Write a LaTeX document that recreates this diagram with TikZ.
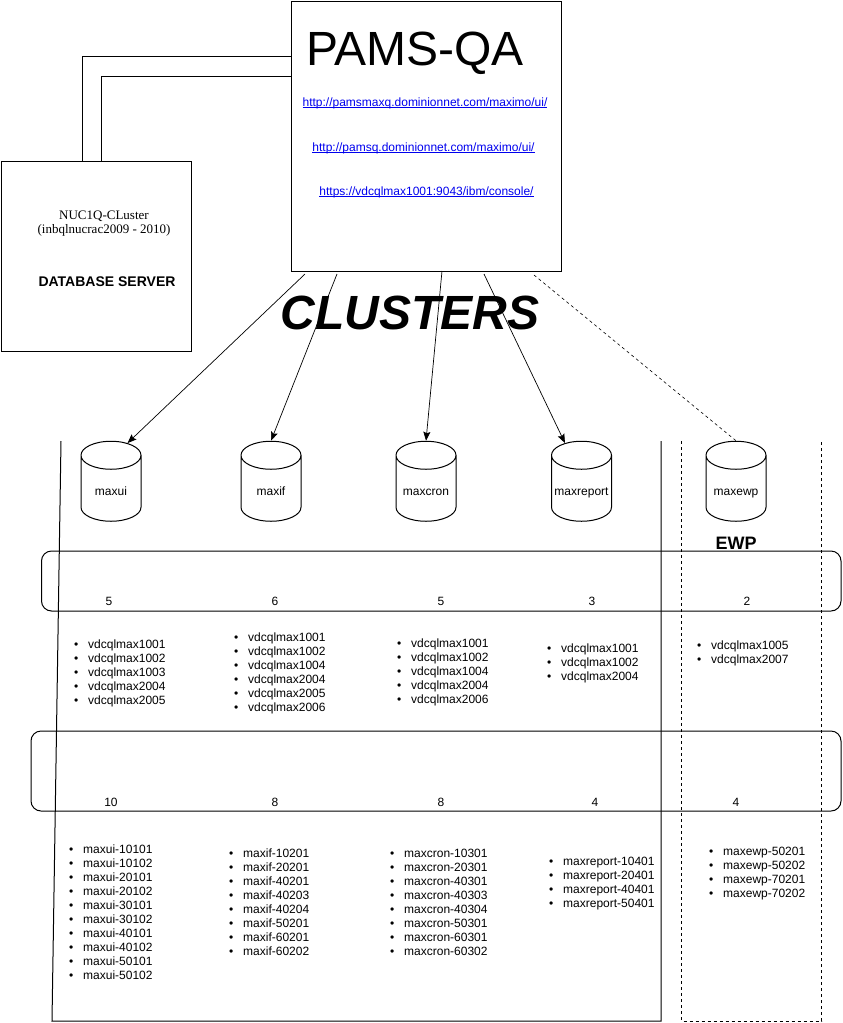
\documentclass[tikz,border=0pt]{standalone}
\usepackage{fontspec}
\setmainfont{Liberation Sans}
\newfontfamily\serifpart{Liberation Serif}
\usetikzlibrary{arrows.meta,shapes.geometric}

\definecolor{linkblue}{RGB}{0,0,238}
\newcommand{\hostitem}[1]{\makebox[14pt][l]{\textbullet}#1\strut}
\newcommand{\weblink}[1]{\textcolor{linkblue}{\underline{\smash{#1}}}}

\tikzset{
    boxline/.style={line width=1pt},
    clusterdb/.style={draw,line width=1pt,cylinder,shape border rotate=90,aspect=0.5,
        minimum height=80pt,minimum width=60pt,inner sep=0pt,
        text width=56pt,align=center,text height=15.6pt,text depth=2.6pt,
        font=\fontsize{12}{14}\selectfont},
    small/.style={inner sep=0pt,font=\fontsize{12}{14}\selectfont},
    hostlist/.style={small,anchor=north west,align=left},
    toarrow/.style={line width=0.7pt,-{Stealth[length=9pt,width=7pt,inset=1.5pt]}},
    rowband/.style={draw,line width=1pt,rounded corners=10pt}
}

\begin{document}
\begin{tikzpicture}[x=1pt,y=-1pt]
    \useasboundingbox (0,0) rectangle (843,1023);

    \coordinate (P1) at (305,274);
    \coordinate (P2) at (337,274);
    \coordinate (P3) at (442,271);
    \coordinate (P4) at (484,274);
    \coordinate (P5) at (534,275);
    \coordinate (D1) at (82,161);
    \coordinate (D2) at (101.5,161);
    \coordinate (Q1) at (291.5,56);
    \coordinate (Q2) at (291.5,76);

    % top boxes
    \draw[boxline] (291.5,1.5) rectangle (561.5,271);
    \draw[boxline] (1.5,161) rectangle (191.5,351);
    \draw[boxline] (D1) |- (Q1);
    \draw[boxline] (D2) |- (Q2);

    \node[inner sep=0pt,font=\fontsize{48}{48}\selectfont] (pamstitle) at (415,53) {PAMS-QA};
    \node[small] (linkmaxq) at (425,107) {\weblink{http://pamsmaxq.dominionnet.com/maximo/ui/}};
    \node[small] (linkpamsq) at (423.5,152) {\weblink{http://pamsq.dominionnet.com/maximo/ui/}};
    \node[small] (linkconsole) at (426.5,196) {\weblink{https://vdcqlmax1001:9043/ibm/console/}};

    \node[small,align=center,font=\fontsize{13}{14}\selectfont\serifpart] (dbname) at (104,224)
        {NUC1Q-CLuster\\(inbqlnucrac2009 - 2010)};
    \node[small,font=\fontsize{14}{16}\selectfont\bfseries] (dblabel) at (107,282) {DATABASE SERVER};

    % clusters
    \node[clusterdb] (maxui) at (111,488.5) {maxui};
    \node[clusterdb] (maxif) at (271,488.5) {maxif};
    \node[clusterdb] (maxcron) at (426,488.5) {maxcron};
    \node[clusterdb] (maxreport) at (581.5,488.5) {maxreport};
    \node[clusterdb] (maxewp) at (736,488.5) {maxewp};

    \draw[toarrow] (P1) -- (maxui.70);
    \draw[toarrow] (P2) -- (maxif.90);
    \draw[toarrow] (P3) -- (maxcron.90);
    \draw[toarrow] (P4) -- (maxreport.110);
    \draw[line width=0.6pt,dashed] (P5) -- (maxewp.90);

    \node[inner sep=0pt,font=\fontsize{48}{48}\selectfont\bfseries\itshape] (clusters) at (410,313) {CLUSTERS};
    \node[inner sep=0pt,font=\fontsize{18}{20}\selectfont\bfseries] (ewp) at (736,543) {EWP};

    % frames
    \draw[line width=1pt] (61,441) -- (52,1021) -- (661,1021) -- (661,441);
    \draw[line width=0.8pt,dashed] (681.5,441) -- (681.5,1021) -- (821.5,1021) -- (821.5,441);
    \draw[rowband] (41.5,551) rectangle (841,611);
    \draw[rowband] (31,731) rectangle (841,811);

    % counts
    \node[small] (hostsui) at (109,601) {5};
    \node[small] (hostsif) at (275,601) {6};
    \node[small] (hostscron) at (441,601) {5};
    \node[small] (hostsreport) at (592,601) {3};
    \node[small] (hostsewp) at (747,601) {2};
    \node[small] (jvmsui) at (111,802) {10};
    \node[small] (jvmsif) at (275,802) {8};
    \node[small] (jvmscron) at (441,802) {8};
    \node[small] (jvmsreport) at (595,802) {4};
    \node[small] (jvmsewp) at (736,802) {4};

    % server lists
    \node[hostlist] (listui) at (74,638) {\hostitem{vdcqlmax1001}\\\hostitem{vdcqlmax1002}\\\hostitem{vdcqlmax1003}\\\hostitem{vdcqlmax2004}\\\hostitem{vdcqlmax2005}};
    \node[hostlist] (listif) at (234,631) {\hostitem{vdcqlmax1001}\\\hostitem{vdcqlmax1002}\\\hostitem{vdcqlmax1004}\\\hostitem{vdcqlmax2004}\\\hostitem{vdcqlmax2005}\\\hostitem{vdcqlmax2006}};
    \node[hostlist] (listcron) at (397,637) {\hostitem{vdcqlmax1001}\\\hostitem{vdcqlmax1002}\\\hostitem{vdcqlmax1004}\\\hostitem{vdcqlmax2004}\\\hostitem{vdcqlmax2006}};
    \node[hostlist] (listreport) at (547,642.5) {\hostitem{vdcqlmax1001}\\\hostitem{vdcqlmax1002}\\\hostitem{vdcqlmax2004}};
    \node[hostlist] (listewp) at (697,639.5) {\hostitem{vdcqlmax1005}\\\hostitem{vdcqlmax2007}};

    % jvm lists
    \node[hostlist] (jvmui) at (69,843) {\hostitem{maxui-10101}\\\hostitem{maxui-10102}\\\hostitem{maxui-20101}\\\hostitem{maxui-20102}\\\hostitem{maxui-30101}\\\hostitem{maxui-30102}\\\hostitem{maxui-40101}\\\hostitem{maxui-40102}\\\hostitem{maxui-50101}\\\hostitem{maxui-50102}};
    \node[hostlist] (jvmif) at (229,847) {\hostitem{maxif-10201}\\\hostitem{maxif-20201}\\\hostitem{maxif-40201}\\\hostitem{maxif-40203}\\\hostitem{maxif-40204}\\\hostitem{maxif-50201}\\\hostitem{maxif-60201}\\\hostitem{maxif-60202}};
    \node[hostlist] (jvmcron) at (390,847) {\hostitem{maxcron-10301}\\\hostitem{maxcron-20301}\\\hostitem{maxcron-40301}\\\hostitem{maxcron-40303}\\\hostitem{maxcron-40304}\\\hostitem{maxcron-50301}\\\hostitem{maxcron-60301}\\\hostitem{maxcron-60302}};
    \node[hostlist] (jvmreport) at (549,855) {\hostitem{maxreport-10401}\\\hostitem{maxreport-20401}\\\hostitem{maxreport-40401}\\\hostitem{maxreport-50401}};
    \node[hostlist] (jvmewp) at (709,845) {\hostitem{maxewp-50201}\\\hostitem{maxewp-50202}\\\hostitem{maxewp-70201}\\\hostitem{maxewp-70202}};
\end{tikzpicture}
\end{document}
